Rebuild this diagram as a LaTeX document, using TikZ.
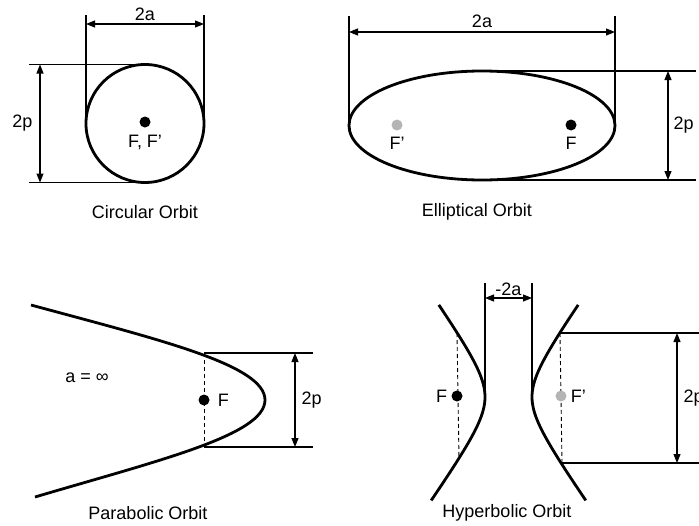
\documentclass[tikz,border=0pt]{standalone}
\usepackage{fontspec}
\setmainfont{Liberation Sans}
\usepackage{tikz}
\usetikzlibrary{positioning,arrows.meta,shapes.geometric}
\definecolor{focusgrey}{HTML}{B4B4B4}
\tikzset{
  orbit/.style  = {draw=black, line width=2.8pt, inner sep=0pt, outer sep=0pt},
  ext/.style    = {draw=black, line width=1.1pt},
  dimarr/.style = {{Triangle[length=9pt,width=7pt]}-{Triangle[length=9pt,width=7pt]}, line width=1.1pt},
  guide/.style  = {draw=black, line width=0.9pt, dash pattern=on 4pt off 3pt},
  focus/.style  = {circle, fill=#1, minimum size=11pt, inner sep=0pt},
  lbl/.style    = {font=\fontsize{18}{21}\selectfont, inner sep=1pt},
}

\begin{document}
\begin{tikzpicture}[x=1pt,y=-1pt]
  \useasboundingbox (0,0) rectangle (699,525);
  \clip (0,0) rectangle (699,525);

  % circular
  \node[orbit, circle, minimum size=118pt] (circ) at (145,123.5) {};
  \node[focus=black] (cF) at (145,122) {};
  \node[lbl] (cFlbl) at (145,142) {F, F’};
  \coordinate (cAL) at (86,15);  \coordinate (cAR) at (204,15);
  \coordinate (cArL) at (86,24); \coordinate (cArR) at (204,24);
  \coordinate (cPT) at (29,64.5);  \coordinate (cPB) at (29,182.5);
  \coordinate (cPa) at (40,64.5);  \coordinate (cPb) at (40,182.5);
  \draw[ext] (circ.west) -- (cAL);
  \draw[ext] (circ.east) -- (cAR);
  \draw[ext] (circ.north) -- (cPT);
  \draw[ext] (circ.south) -- (cPB);
  \draw[dimarr] (cArL) -- node[lbl, above=2pt] (c2a) {2a} (cArR);
  \draw[dimarr] (cPa) -- node[lbl, left=6pt] (c2p) {2p} (cPb);
  \node[lbl] (cCap) at (145,212) {Circular Orbit};

  % elliptical
  \node[orbit, ellipse, minimum width=266pt, minimum height=109pt] (ell) at (482,125.5) {};
  \node[focus=focusgrey] (eF2) at (397,125) {};
  \node[lbl] (eF2lbl) at (397,143) {F’};
  \node[focus=black] (eF) at (571,125) {};
  \node[lbl] (eFlbl) at (571,143) {F};
  \coordinate (eAL) at (349,16);  \coordinate (eAR) at (615,16);
  \coordinate (eArL) at (349,32); \coordinate (eArR) at (615,32);
  \coordinate (ePT) at (696,71);  \coordinate (ePB) at (696,180);
  \coordinate (ePa) at (668,71);  \coordinate (ePb) at (668,180);
  \draw[ext] (ell.west) -- (eAL);
  \draw[ext] (ell.east) -- (eAR);
  \draw[ext] (ell.north) -- (ePT);
  \draw[ext] (ell.south) -- (ePB);
  \draw[dimarr] (eArL) -- node[lbl, above=3pt] (e2a) {2a} (eArR);
  \draw[dimarr] (ePa) -- node[lbl, right=4pt] (e2p) {2p} (ePb);
  \node[lbl] (eCap) at (477,212) {Elliptical Orbit};

  % parabolic
  \coordinate (pUp) at (31,305);  \coordinate (pLo) at (35,497);
  \coordinate (pV) at (265,400);
  \coordinate (pT) at (204,353);  \coordinate (pB) at (204,447);
  \draw[orbit] (pUp) .. controls (160,340) and (265,365) .. (pV)
                     .. controls (265,435) and (160,460) .. (pLo);
  \draw[guide] (pT) -- (pB);
  \node[focus=black] (pF) at (204,400) {};
  \node[lbl, right=7pt of pF] (pFlbl) {F};
  \coordinate (pHT) at (313,353); \coordinate (pHB) at (313,447);
  \coordinate (pPa) at (295,353); \coordinate (pPb) at (295,447);
  \draw[ext] (pT) -- (pHT);
  \draw[ext] (pB) -- (pHB);
  \draw[dimarr] (pPa) -- node[lbl, right=5pt] (p2p) {2p} (pPb);
  \node[lbl] (pA) at (87,378) {a = ∞};
  \node[lbl] (pCap) at (148,513) {Parabolic Orbit};

  % hyperbolic
  \draw[orbit] plot[domain=-1.75:1.86, smooth, samples=40, variable=\t]
    ({485-23.5*(cosh(\t)-1)}, {397+33*sinh(\t)});
  \draw[orbit] plot[domain=-1.75:1.86, smooth, samples=40, variable=\t]
    ({532+23.5*(cosh(\t)-1)}, {397+33*sinh(\t)});
  \coordinate (hVL) at (485,397); \coordinate (hVR) at (532,397);
  \coordinate (hAL) at (485,283); \coordinate (hAR) at (532,283);
  \coordinate (hArL) at (485,298); \coordinate (hArR) at (532,298);
  \draw[ext] (hVL) -- (hAL);
  \draw[ext] (hVR) -- (hAR);
  \draw[dimarr] (hArL) -- node[lbl, above=1pt] (h2a) {-2a} (hArR);
  \coordinate (hLT) at (457,333); \coordinate (hLB) at (459,459);
  \coordinate (hRT) at (560,333); \coordinate (hRB) at (562,463);
  \draw[guide] (hLT) -- (hLB);
  \draw[guide] (hRT) -- (hRB);
  \node[focus=black] (hF) at (457,396) {};
  \node[lbl, left=3pt of hF] (hFlbl) {F};
  \node[focus=focusgrey] (hF2) at (561,396) {};
  \node[lbl, right=3pt of hF2] (hF2lbl) {F’};
  \coordinate (hHT) at (705,333); \coordinate (hHB) at (705,463);
  \coordinate (hPa) at (677,333); \coordinate (hPb) at (677,463);
  \draw[ext] (hRT) -- (hHT);
  \draw[ext] (hRB) -- (hHB);
  \draw[dimarr] (hPa) -- node[lbl, right=5pt] (h2p) {2p} (hPb);
  \node[lbl] (hCap) at (507,513) {Hyperbolic Orbit};
\end{tikzpicture}
\end{document}
